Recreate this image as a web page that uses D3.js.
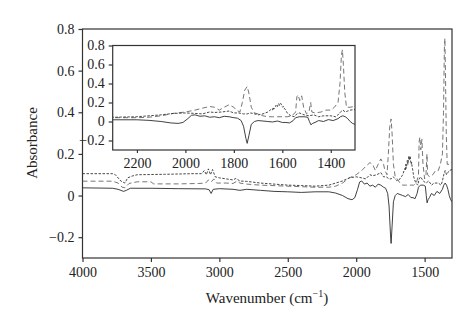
<!DOCTYPE html>
<html><head><meta charset="utf-8">
<script src="https://cdn.jsdelivr.net/npm/d3@7"></script>
<style>body{margin:0;background:#fff}svg{display:block}text{font-family:"Liberation Serif","DejaVu Serif",serif;fill:#222}</style>
</head><body><svg id="c" width="474" height="324"></svg>
<script>
// Data: [wavenumber, absorbance]
const solidSeries = [[4000,0.037],[3780,0.035],[3740,0.03],[3700,0.02],[3680,0.025],[3650,0.035],[3500,0.035],[3300,0.033],[3100,0.032],[3075,0.028],[3060,0.01],[3045,0.03],[3000,0.033],[2900,0.03],[2850,0.025],[2800,0.03],[2700,0.025],[2600,0.02],[2500,0.018],[2400,0.015],[2300,0.018],[2200,0.018],[2150,0.012],[2100,0.0],[2060,-0.015],[2030,-0.02],[2010,-0.01],[1990,0.03],[1975,0.065],[1960,0.07],[1940,0.055],[1920,0.06],[1900,0.045],[1880,0.05],[1860,0.04],[1840,0.055],[1820,0.05],[1800,0.04],[1785,0.035],[1770,0.01],[1760,-0.05],[1750,-0.18],[1745,-0.23],[1738,-0.15],[1728,-0.03],[1715,0.0],[1700,0.01],[1680,0.005],[1660,0.0],[1640,-0.005],[1620,0.005],[1600,-0.01],[1585,-0.01],[1570,-0.015],[1555,0.01],[1545,0.04],[1530,0.05],[1510,0.05],[1495,0.045],[1488,0.0],[1482,-0.035],[1475,-0.02],[1465,-0.01],[1450,0.01],[1430,0.0],[1410,0.02],[1390,0.01],[1370,0.03],[1360,0.05],[1350,0.06],[1340,0.05],[1330,0.03],[1320,0.0],[1310,-0.02],[1300,-0.03]];
const dashedSeries = [[4000,0.069],[3780,0.069],[3740,0.06],[3710,0.04],[3690,0.037],[3660,0.058],[3600,0.066],[3500,0.066],[3480,0.056],[3300,0.056],[3150,0.058],[3100,0.06],[3080,0.075],[3060,0.065],[3040,0.08],[3020,0.06],[2950,0.06],[2900,0.058],[2870,0.07],[2850,0.06],[2800,0.055],[2700,0.05],[2500,0.045],[2300,0.04],[2200,0.04],[2150,0.045],[2100,0.06],[2050,0.085],[2000,0.1],[1960,0.12],[1930,0.14],[1900,0.158],[1880,0.15],[1860,0.12],[1840,0.15],[1820,0.176],[1800,0.15],[1790,0.12],[1775,0.1],[1765,0.2],[1755,0.33],[1745,0.368],[1738,0.3],[1728,0.15],[1715,0.09],[1700,0.08],[1680,0.06],[1660,0.05],[1640,0.05],[1620,0.05],[1600,0.05],[1580,0.05],[1560,0.06],[1545,0.1],[1540,0.26],[1535,0.28],[1528,0.22],[1520,0.27],[1512,0.15],[1500,0.08],[1490,0.1],[1483,0.2],[1478,0.1],[1465,0.09],[1440,0.1],[1420,0.12],[1400,0.12],[1385,0.15],[1370,0.2],[1362,0.4],[1356,0.7],[1352,0.755],[1348,0.6],[1342,0.3],[1335,0.15],[1320,0.15],[1300,0.16]];
const dottedSeries = [[4000,0.105],[3780,0.105],[3760,0.1],[3720,0.07],[3690,0.06],[3670,0.085],[3640,0.093],[3600,0.1],[3400,0.102],[3200,0.105],[3130,0.105],[3110,0.12],[3095,0.1],[3080,0.128],[3065,0.1],[3050,0.125],[3030,0.09],[3000,0.085],[2950,0.08],[2900,0.075],[2880,0.082],[2850,0.07],[2800,0.068],[2700,0.06],[2600,0.055],[2500,0.05],[2400,0.048],[2300,0.045],[2200,0.05],[2100,0.07],[2050,0.085],[2000,0.09],[1960,0.085],[1930,0.08],[1900,0.1],[1880,0.095],[1850,0.1],[1820,0.11],[1800,0.09],[1780,0.09],[1760,0.08],[1745,0.08],[1730,0.09],[1700,0.07],[1680,0.08],[1660,0.1],[1650,0.12],[1645,0.13],[1640,0.12],[1638,0.15],[1635,0.13],[1632,0.14],[1628,0.16],[1626,0.17],[1622,0.15],[1620,0.16],[1617,0.18],[1615,0.19],[1612,0.17],[1610,0.17],[1607,0.19],[1605,0.185],[1601,0.16],[1598,0.15],[1595,0.16],[1592,0.14],[1586,0.12],[1580,0.09],[1565,0.06],[1550,0.05],[1540,0.08],[1530,0.09],[1510,0.07],[1490,0.06],[1470,0.07],[1450,0.05],[1430,0.06],[1400,0.06],[1380,0.05],[1370,0.07],[1360,0.1],[1350,0.12],[1340,0.1],[1330,0.11],[1320,0.12],[1300,0.125]];
const mainXTicks = [4000,3500,3000,2500,2000,1500];
const mainYTicks = [-0.2,0,0.2,0.4,0.6,0.8];
const insetXTicks = [2200,2000,1800,1600,1400];
const insetYTicks = [-0.2,0,0.2,0.4,0.6,0.8];

const series = [
  {data: solidSeries, color: "#2b2b2b", dash: null, w: 0.9},
  {data: dashedSeries, color: "#666", dash: "5,3", w: 0.9},
  {data: dottedSeries, color: "#333", dash: "2.5,1.5", w: 0.9}
];
const fmt = v => v === 0 ? "0" : d3.format(".1f")(v).replace("-", "\u2212");

const svg = d3.select("#c");
function panel(g, x, y, xTicks, yTicks, clipId, xTickSize) {
  const [x0, x1] = x.range(), [y0, y1] = y.range();
  g.append("rect").attr("x", x0).attr("y", y1).attr("width", x1 - x0).attr("height", y0 - y1)
    .attr("fill", "#fff").attr("stroke", "#333").attr("stroke-width", 1.2);
  svg.append("clipPath").attr("id", clipId).append("rect")
    .attr("x", x0).attr("y", y1).attr("width", x1 - x0).attr("height", y0 - y1);
  const xa = g.append("g").attr("transform", `translate(0,${y0})`)
    .call(d3.axisBottom(x).tickValues(xTicks).tickFormat(d3.format("d")).tickSize(xTickSize).tickPadding(5));
  const ya = g.append("g").attr("transform", `translate(${x0},0)`)
    .call(d3.axisLeft(y).tickValues(yTicks).tickFormat(fmt).tickSize(4).tickPadding(4));
  [xa, ya].forEach(a => {
    a.select(".domain").remove();
    a.selectAll("line").attr("stroke", "#333").attr("stroke-width", 1.2);
    a.selectAll("text").attr("font-size", 14).attr("fill", "#222").style("font-family", '"Liberation Serif",serif');
  });
  const line = d3.line().x(d => x(d[0])).y(d => y(d[1]));
  const lg = g.append("g").attr("clip-path", `url(#${clipId})`);
  series.forEach(s => {
    lg.append("path").attr("d", line(s.data)).attr("fill", "none")
      .attr("stroke", s.color).attr("stroke-width", s.w)
      .attr("stroke-dasharray", s.dash);
  });
}

const xMain = d3.scaleLinear().domain([4000, 1300]).range([82.5, 452]);
const yMain = d3.scaleLinear().domain([-0.3, 0.8]).range([258, 29]);
panel(svg.append("g"), xMain, yMain, mainXTicks, mainYTicks, "clipMain", 4);

const xIn = d3.scaleLinear().domain([2300, 1300]).range([112.7, 355]);
const yIn = d3.scaleLinear().domain([-0.3, 0.8]).range([150, 45.5]);
panel(svg.append("g"), xIn, yIn, insetXTicks, insetYTicks, "clipInset", 3);

svg.append("text").attr("transform", "translate(37,143) rotate(-90)")
  .attr("text-anchor", "middle").attr("font-size", 15).text("Absorbance");
const t = svg.append("text").attr("x", 267).attr("y", 303).attr("text-anchor", "middle").attr("font-size", 15);
t.append("tspan").text("Wavenumber (cm");
t.append("tspan").attr("dy", -6).attr("font-size", 10).text("\u22121");
t.append("tspan").attr("dy", 6).text(")");
</script></body></html>
